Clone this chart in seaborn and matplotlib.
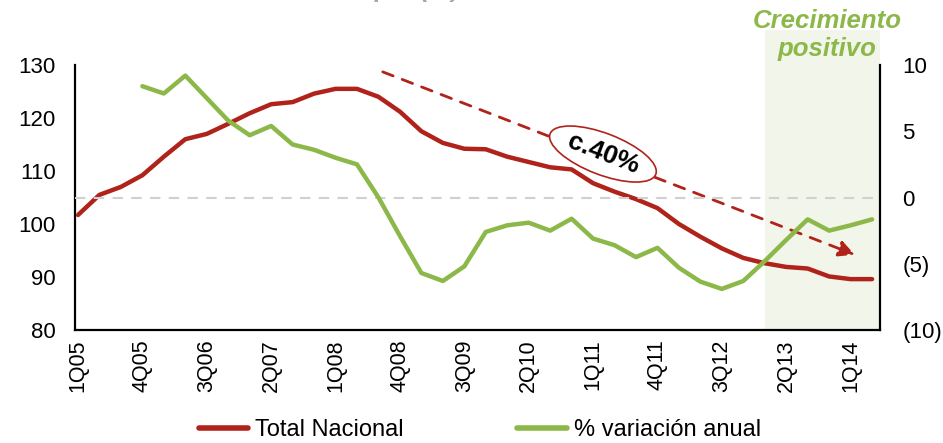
import numpy as np
import pandas as pd
import matplotlib
matplotlib.use("Agg")
import matplotlib.pyplot as plt
import seaborn as sns

# Quarter labels (1Q05 .. 2Q14)
quarters = ["1Q05", "2Q05", "3Q05", "4Q05", "1Q06", "2Q06", "3Q06", "4Q06",
            "1Q07", "2Q07", "3Q07", "4Q07", "1Q08", "2Q08", "3Q08", "4Q08",
            "1Q09", "2Q09", "3Q09", "4Q09", "1Q10", "2Q10", "3Q10", "4Q10",
            "1Q11", "2Q11", "3Q11", "4Q11", "1Q12", "2Q12", "3Q12", "4Q12",
            "1Q13", "2Q13", "3Q13", "4Q13", "1Q14", "2Q14"]

# Total Nacional (index, left axis)
total_nacional = [101.7, 105.5, 107.0, 109.2, 112.7, 116.0, 117.0, 118.9,
                  120.9, 122.6, 123.0, 124.6, 125.5, 125.5, 124.0, 121.2,
                  117.5, 115.3, 114.2, 114.1, 112.7, 111.7, 110.7, 110.3,
                  107.7, 106.1, 104.7, 103.0, 100.0, 97.6, 95.4, 93.6,
                  92.6, 91.9, 91.6, 90.1, 89.6, 89.6]

# % variacion anual (right axis)
variacion_anual = [np.nan, np.nan, np.nan, 8.4, 7.85, 9.2, 7.5, 5.8,
                   4.7, 5.4, 4.0, 3.6, 3.0, 2.5, 0.0, -2.9,
                   -5.7, -6.3, -5.2, -2.6, -2.1, -1.9, -2.5, -1.6,
                   -3.1, -3.6, -4.5, -3.8, -5.3, -6.35, -6.9, -6.3,
                   -4.8, -3.2, -1.65, -2.5, -2.1, -1.65]

tick_every = 3
shade_from = "1Q13"

RED = "#B0231A"
GREEN = "#8CB84A"

df = pd.DataFrame({
    "pos": np.arange(len(quarters)),
    "quarter": quarters,
    "total": total_nacional,
    "var": variacion_anual,
})

sns.set_style("white")
plt.rcParams["font.family"] = ["Liberation Sans", "DejaVu Sans"]
plt.rcParams["text.color"] = "black"
plt.rcParams["xtick.color"] = "black"
plt.rcParams["ytick.color"] = "black"

fig = plt.figure(figsize=(9.43, 4.43), dpi=100)
ax = fig.add_axes([75 / 943, 1 - 330 / 443, 805 / 943, 265 / 443])
ax2 = ax.twinx()

# shaded "crecimiento positivo" zone
x0 = quarters.index(shade_from)
ax.axvspan(x0, len(quarters) - 0.63, ymin=0, ymax=1.132, color="#F2F6EA",
           lw=0, zorder=0, clip_on=False)

# zero line of right axis
ax2.axhline(0, color="#D0D0D0", lw=1.5, ls=(0, (5, 4)), zorder=1)

sns.lineplot(data=df, x="pos", y="total", ax=ax, color=RED, lw=3.2,
             label="Total Nacional", legend=False, zorder=3)
sns.lineplot(data=df.dropna(), x="pos", y="var", ax=ax2, color=GREEN, lw=3.2,
             label="% variación anual", legend=False, zorder=3)

ax.set_xlim(-0.14, len(quarters) - 0.63)
ax.set_ylim(80, 130)
ax2.set_ylim(-10, 10)

ax.set_xticks(df["pos"][::tick_every])
ax.set_xticklabels(df["quarter"][::tick_every], rotation=90, fontsize=15.5)
ax.set_yticks([80, 90, 100, 110, 120, 130])
ax.tick_params(axis="y", labelsize=16, length=0, pad=14)
ax.tick_params(axis="x", length=0, pad=7)
ax2.set_yticks([-10, -5, 0, 5, 10])
ax2.set_yticklabels(["(10)", "(5)", "0", "5", "10"])
ax2.tick_params(axis="y", labelsize=16, length=0, pad=16)
for lab in ax2.get_yticklabels():
    lab.set_horizontalalignment("left")

ax.set_xlabel("")
ax.set_ylabel("")
ax2.set_ylabel("")

for a in (ax, ax2):
    for s in a.spines.values():
        s.set_visible(False)
ax.spines["left"].set_visible(True)
ax.spines["bottom"].set_visible(True)
ax2.spines["right"].set_visible(True)
for s in (ax.spines["left"], ax.spines["bottom"], ax2.spines["right"]):
    s.set_color("black")
    s.set_linewidth(1.6)

# dashed trend arrow
ax.annotate("", xy=(36.2, 94.2), xytext=(14.2, 128.7),
            arrowprops=dict(arrowstyle="-|>", color=RED, lw=2,
                            linestyle=(0, (4, 3.5)), mutation_scale=24,
                            shrinkA=0, shrinkB=0),
            annotation_clip=False, zorder=4)

ax.text(24.46, 113.2, "c.40%", rotation=-21, rotation_mode="anchor",
        ha="center", va="center", fontsize=19, fontweight="bold",
        color="black",
        bbox=dict(boxstyle="ellipse,pad=0.1", fc="white", ec=RED, lw=1.2),
        zorder=6)

fig.text(827 / 943, 1 - 35 / 443, "Crecimiento\npositivo", ha="center",
         va="center", fontsize=18.5, fontweight="bold", style="italic",
         color=GREEN, linespacing=1.25)

# title mostly above the top edge, only its lower part shows
fig.text(460 / 943, 1 + 3 / 443, "Precio de compra (%)", ha="right",
         va="baseline", fontsize=18, fontweight="bold", style="italic",
         color="#A6A6A6")

h1, l1 = ax.get_legend_handles_labels()
h2, l2 = ax2.get_legend_handles_labels()
leg = fig.legend(h1 + h2, l1 + l2, loc="center",
                 bbox_to_anchor=(480 / 943, 1 - 430 / 443), ncol=2,
                 frameon=False, handlelength=2.1, handletextpad=0.3,
                 columnspacing=4.8, prop={"size": 17})
for line in leg.get_lines():
    line.set_linewidth(4)

fig.savefig("out.png", dpi=100)
